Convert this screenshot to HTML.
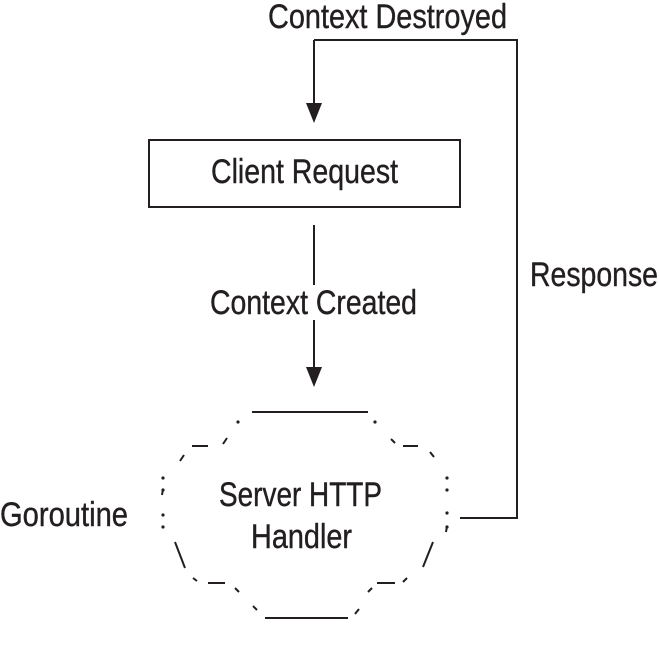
<!DOCTYPE html>
<html><head><style>
html,body{margin:0;padding:0;background:#fff;}
svg{display:block;}
text{font-family:"Liberation Sans Narrow","Liberation Sans",sans-serif;font-size:34px;fill:#231f20;stroke:#231f20;stroke-width:0.4;}
</style></head><body>
<svg width="659" height="645" viewBox="0 0 659 645" xmlns="http://www.w3.org/2000/svg">
<g stroke="#231f20" stroke-width="2" fill="none">
<polyline points="314,40 517,40 517,518 460,518"/>
<line x1="314" y1="40" x2="314" y2="108"/>
<rect x="149" y="140" width="311" height="67"/>
<line x1="314" y1="225" x2="314" y2="285"/>
<line x1="314" y1="320" x2="314" y2="372"/>
<line x1="252" y1="412" x2="368" y2="412"/>
<line x1="192" y1="446" x2="208" y2="446"/>
<line x1="227" y1="438" x2="223" y2="444"/>
<line x1="184" y1="455" x2="180" y2="461"/>
<line x1="175" y1="542" x2="185" y2="568"/>
<line x1="193" y1="578" x2="197" y2="581"/>
<line x1="208" y1="583" x2="225" y2="583"/>
<line x1="235" y1="588" x2="239" y2="592"/>
<line x1="253" y1="606" x2="257" y2="610"/>
<line x1="265" y1="618" x2="348" y2="618"/>
<line x1="359" y1="609" x2="355" y2="614"/>
<line x1="391" y1="439" x2="395" y2="443"/>
<line x1="403" y1="446" x2="418" y2="446"/>
<line x1="430" y1="452" x2="434" y2="457"/>
<line x1="433" y1="542" x2="423" y2="567"/>
<line x1="372" y1="588" x2="368" y2="592"/>
<line x1="377" y1="583" x2="395" y2="583"/>
<line x1="407" y1="578" x2="403" y2="582"/>
<line x1="163" y1="489" x2="162" y2="495"/>
<line x1="447" y1="526" x2="446" y2="532"/>
</g>
<g fill="#231f20">
<polygon points="306,103 322,103 314,123"/>
<polygon points="306,367 322,367 314,387"/>
<circle cx="238" cy="422" r="1.6"/>
<circle cx="375" cy="422" r="1.6"/>
<circle cx="163" cy="478" r="1.6"/>
<circle cx="163" cy="490" r="1.6"/>
<circle cx="163" cy="515" r="1.6"/>
<circle cx="163" cy="527" r="1.6"/>
<circle cx="447" cy="478" r="1.6"/>
<circle cx="447" cy="490" r="1.6"/>
<circle cx="447" cy="513" r="1.6"/>
<circle cx="447" cy="527" r="1.6"/>
</g>
<text x="268" y="28" textLength="239" lengthAdjust="spacingAndGlyphs">Context Destroyed</text>
<text x="211" y="183" textLength="187" lengthAdjust="spacingAndGlyphs">Client Request</text>
<text x="210" y="314" textLength="207" lengthAdjust="spacingAndGlyphs">Context Created</text>
<text x="530" y="286" textLength="128" lengthAdjust="spacingAndGlyphs">Response</text>
<text x="0" y="526" textLength="128" lengthAdjust="spacingAndGlyphs">Goroutine</text>
<text x="219" y="506" textLength="163" lengthAdjust="spacingAndGlyphs">Server HTTP</text>
<text x="251" y="548" textLength="101" lengthAdjust="spacingAndGlyphs">Handler</text>
</svg>
</body></html>
